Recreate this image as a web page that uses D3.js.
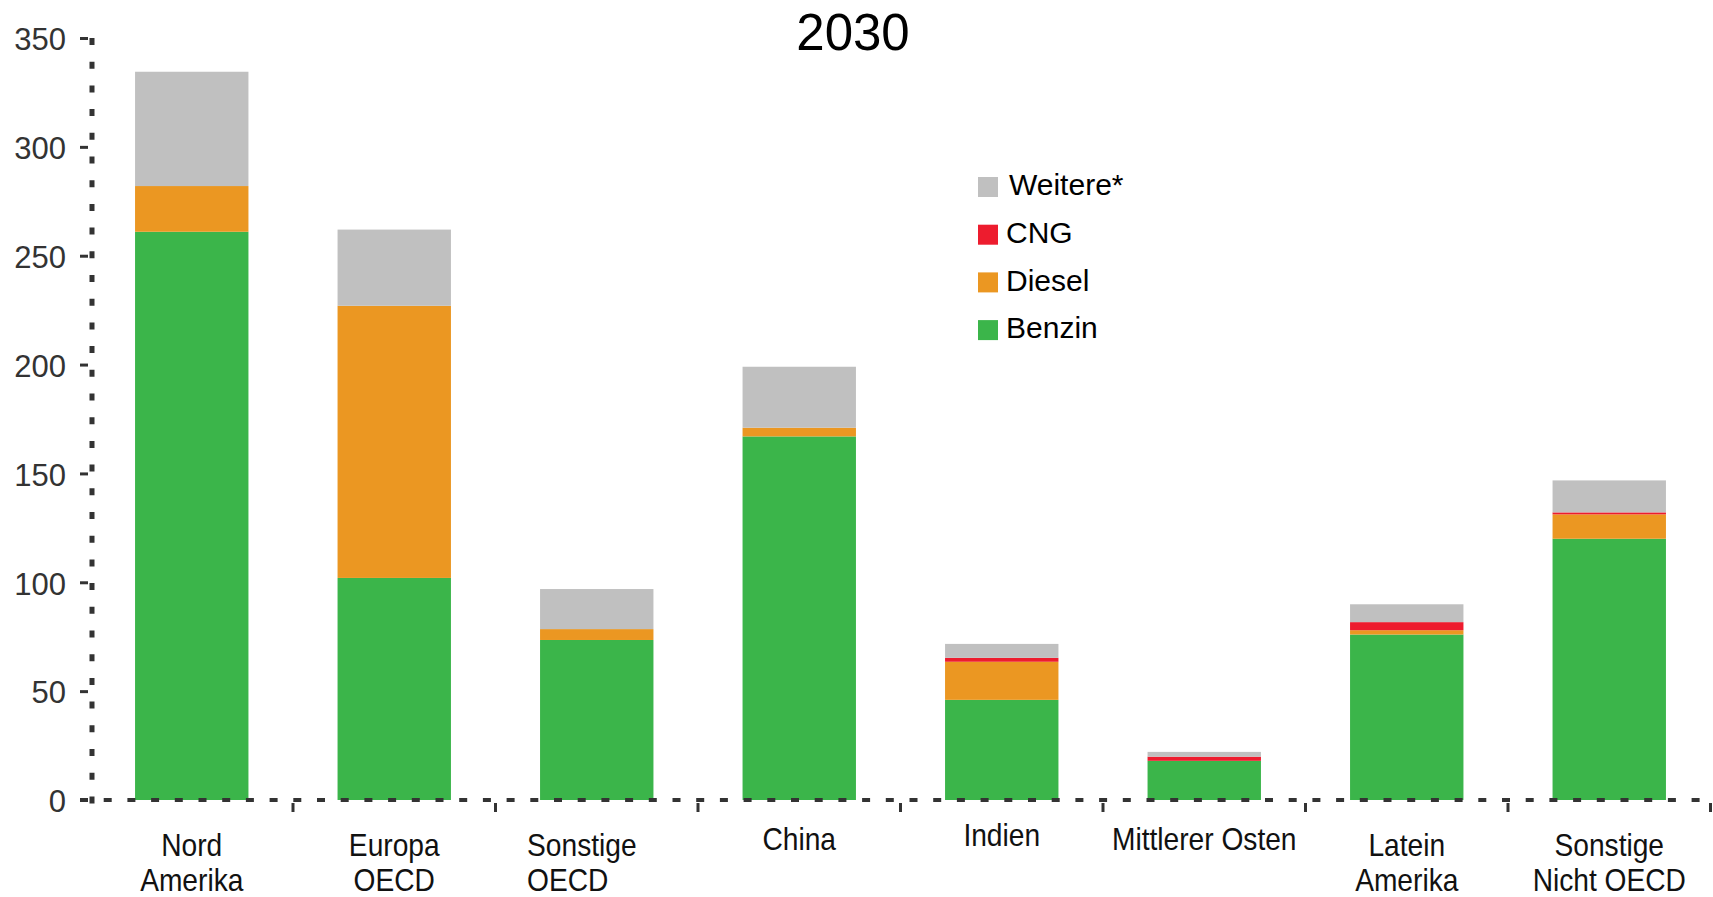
<!DOCTYPE html>
<html>
<head>
<meta charset="utf-8">
<script src="https://cdn.jsdelivr.net/npm/d3@7"></script>
<style>
  body { margin: 0; background: #fff; }
  text { font-family: "Liberation Sans", Arial, sans-serif; }
</style>
</head>
<body>
<div id="chart"></div>
<script>
// regions (two-line labels)
var regions = ["Nord Amerika", "Europa OECD", "Sonstige OECD", "China", "Indien",
               "Mittlerer Osten", "Latein Amerika", "Sonstige Nicht OECD"];
var regionLines = [["Nord", "Amerika"], ["Europa", "OECD"], ["Sonstige", "OECD"], ["China"],
                   ["Indien"], ["Mittlerer Osten"], ["Latein", "Amerika"], ["Sonstige", "Nicht OECD"]];

// values
var benzin  = [261, 102, 73.5, 167, 46, 18, 76, 120];
var diesel  = [21, 125, 5, 4, 17.5, 0, 2, 11.2];
var cng     = [0, 0, 0, 0, 1.8, 1.9, 3.7, 0.9];
var weitere = [52.5, 35, 18.4, 28, 6.4, 2.2, 8.2, 14.7];

var seriesKeys = ["Benzin", "Diesel", "CNG", "Weitere"];
var seriesColors = ["#3bb54a", "#eb9722", "#ed1c2e", "#c0c0c0"];
var legendKeys = ["Weitere*", "CNG", "Diesel", "Benzin"];
var legendColors = ["#c0c0c0", "#ed1c2e", "#eb9722", "#3bb54a"];
var yTicks = [0, 50, 100, 150, 200, 250, 300, 350];

function init() {
    var W = 1713, H = 897;

    var svg = d3.select("#chart").append("svg")
        .attr("width", W)
        .attr("height", H);

    var dataset = regions.map(function (r, i) {
        return {region: r, Benzin: benzin[i], Diesel: diesel[i], CNG: cng[i], Weitere: weitere[i]};
    });

    var series = d3.stack().keys(seriesKeys)(dataset);

    var x = d3.scaleBand()
        .domain(regions)
        .range([90.5, 1710.5])
        .paddingInner(0.44)
        .paddingOuter(0.22);

    var y = d3.scaleLinear()
        .domain([0, 350])
        .range([800, 38]);

    var color = d3.scaleOrdinal().domain(seriesKeys).range(seriesColors);

    // bars
    svg.append("g")
        .selectAll("g")
        .data(series)
        .enter().append("g")
        .attr("fill", function (d) { return color(d.key); })
        .selectAll("rect")
        .data(function (d) { return d; })
        .enter().append("rect")
        .attr("x", function (d) { return x(d.data.region); })
        .attr("y", function (d) { return y(d[1]); })
        .attr("height", function (d) { return y(d[0]) - y(d[1]); })
        .attr("width", x.bandwidth());

    var axisCol = "#333";

    // y axis
    var yAxis = svg.append("g")
        .attr("transform", "translate(88,0)")
        .call(d3.axisLeft(y).tickValues(yTicks).tickSize(8).tickSizeOuter(0).tickPadding(14));
    yAxis.select(".domain").remove();
    yAxis.selectAll("line").attr("stroke", axisCol).attr("stroke-width", 3);
    yAxis.selectAll("text")
        .attr("fill", axisCol)
        .attr("dy", "0.38em")
        .style("font-size", "31px")
        .style("font-family", "Liberation Sans, Arial, sans-serif");

    // dotted y axis line
    svg.append("line")
        .attr("x1", 92).attr("x2", 92)
        .attr("y1", y(350)).attr("y2", 812)
        .attr("stroke", axisCol)
        .attr("stroke-width", 5)
        .attr("stroke-dasharray", "7,16.7");

    // dotted x axis line
    svg.append("line")
        .attr("x1", 80).attr("x2", W)
        .attr("y1", y(0)).attr("y2", y(0))
        .attr("stroke", axisCol)
        .attr("stroke-width", 4)
        .attr("stroke-dasharray", "8,15.7");

    // x ticks between categories
    var bounds = d3.range(1, regions.length + 1).map(function (i) {
        return x.range()[0] + i * x.step();
    });
    svg.append("g").selectAll("line")
        .data(bounds)
        .enter().append("line")
        .attr("x1", function (d) { return d; })
        .attr("x2", function (d) { return d; })
        .attr("y1", 803).attr("y2", 812)
        .attr("stroke", axisCol)
        .attr("stroke-width", 3);

    // x labels ("Sonstige OECD" sits left-aligned in the original)
    var lab = svg.append("g").selectAll("text")
        .data(regionLines)
        .enter().append("text")
        .attr("text-anchor", function (d, i) { return regions[i] === "Sonstige OECD" ? "start" : "middle"; })
        .attr("fill", "#111")
        .style("font-size", "32px")
        .attr("transform", function (d, i) {
            var cx = regions[i] === "Sonstige OECD" ? x(regions[i]) - 13 : x(regions[i]) + x.bandwidth() / 2;
            var cy = d.length > 1 ? 856 : 850;
            if (regions[i] === "Indien") cy = 846;
            return "translate(" + cx + "," + cy + ") scale(0.88,1)";
        });
    lab.selectAll("tspan")
        .data(function (d) { return d; })
        .enter().append("tspan")
        .attr("x", 0)
        .attr("y", function (d, i) { return i * 35; })
        .text(function (d) { return d; });

    // title
    svg.append("text")
        .attr("x", 853)
        .attr("y", 50)
        .attr("text-anchor", "middle")
        .attr("fill", "#000")
        .style("font-size", "51px")
        .text("2030");

    // legend
    var leg = svg.append("g").selectAll("g")
        .data(legendKeys)
        .enter().append("g")
        .attr("transform", function (d, i) { return "translate(978," + (177 + i * 47.7) + ")"; });
    leg.append("rect")
        .attr("width", 20).attr("height", 20)
        .attr("fill", function (d, i) { return legendColors[i]; });
    leg.append("text")
        .attr("x", function (d, i) { return i === 0 ? 31 : 28; })
        .attr("y", 10)
        .attr("dy", "0.27em")
        .attr("fill", "#000")
        .style("font-size", "30px")
        .text(function (d) { return d; });
}

window.onload = init;
</script>
</body>
</html>
